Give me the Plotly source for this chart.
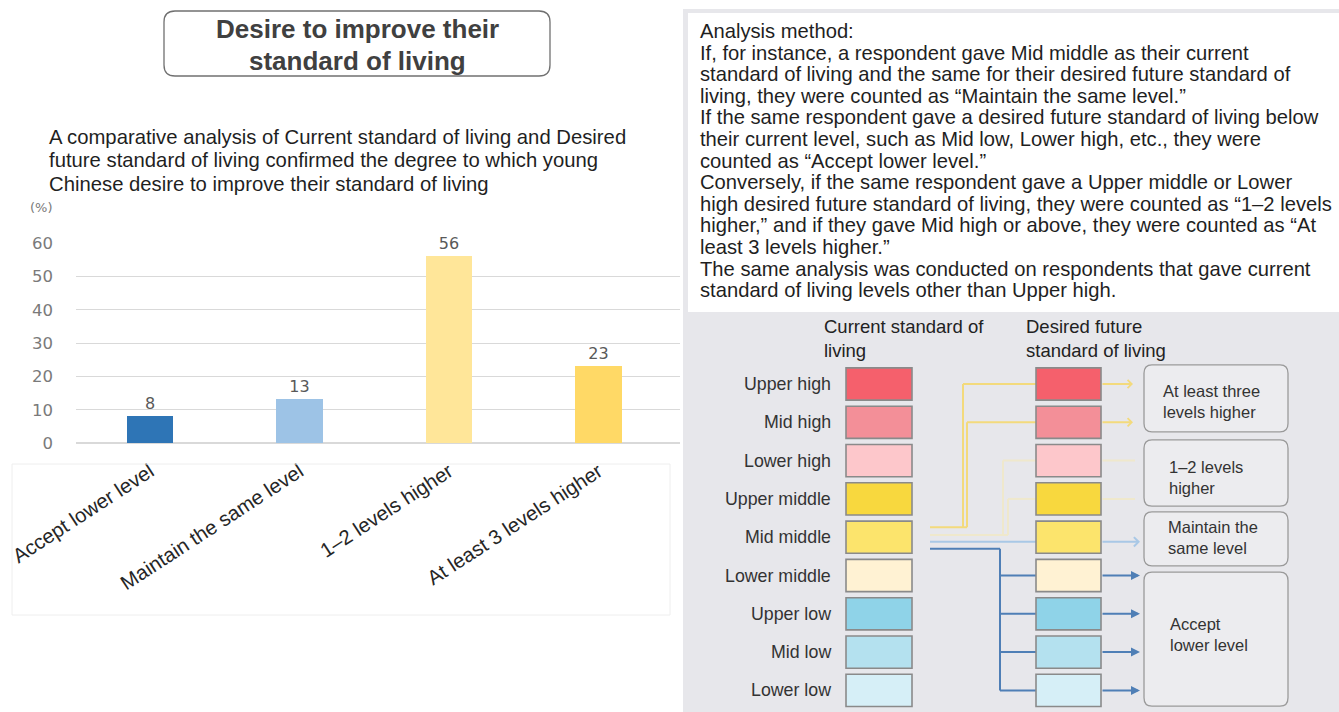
import plotly.graph_objects as go

W, H = 1339, 712
FONT = "Liberation Sans, Arial, sans-serif"
NUM_FONT = "DejaVu Sans, Verdana, sans-serif"

# ---- bar chart data ----
categories = ["Accept lower level", "Maintain the same level",
              "1–2 levels higher", "At least 3 levels higher"]
shares = [8, 13, 56, 23]
bar_colors = ["#2e75b6", "#9dc3e6", "#ffe699", "#ffd966"]
y_ticks = [0, 10, 20, 30, 40, 50, 60]

title_lines = ["Desire to improve their", "standard of living"]
subtitle_lines = [
    "A comparative analysis of Current standard of living and Desired",
    "future standard of living confirmed the degree to which young",
    "Chinese desire to improve their standard of living",
]

# ---- method text ----
method_lines = [
    "Analysis method:",
    "If, for instance, a respondent gave Mid middle as their current",
    "standard of living and the same for their desired future standard of",
    "living, they were counted as “Maintain the same level.”",
    "If the same respondent gave a desired future standard of living below",
    "their current level, such as Mid low, Lower high, etc., they were",
    "counted as “Accept lower level.”",
    "Conversely, if the same respondent gave a Upper middle or Lower",
    "high desired future standard of living, they were counted as “1–2 levels",
    "higher,” and if they gave Mid high or above, they were counted as “At",
    "least 3 levels higher.”",
    "The same analysis was conducted on respondents that gave current",
    "standard of living levels other than Upper high.",
]

# ---- diagram data ----
levels = ["Upper high", "Mid high", "Lower high", "Upper middle", "Mid middle",
          "Lower middle", "Upper low", "Mid low", "Lower low"]
level_colors = ["#f5606c", "#f38f98", "#fdc7cb", "#f8d83e", "#fce46c",
                "#fff2d3", "#8fd3e8", "#b4e1ef", "#d6eff7"]
outcome_labels = ["At least three<br>levels higher", "1–2 levels<br>higher",
                  "Maintain the<br>same level", "Accept<br>lower level"]
outcome_rows = [[0, 1], [2, 3], [4], [5, 6, 7, 8]]
current_header = "Current standard of<br>living"
desired_header = "Desired future<br>standard of living"

# ---- layout geometry (pixels) ----
ROW0, PITCH = 384.0, 38.3          # centre of first level row, row pitch
def row_of(py):
    return (py - ROW0) / PITCH

fig = go.Figure()

# bar chart
fig.add_trace(go.Bar(
    x=list(range(len(categories))), y=shares, width=0.31,
    marker=dict(color=bar_colors, line=dict(width=0)),
    text=[str(v) for v in shares], textposition="outside",
    textfont=dict(size=16, color="#595959", family=NUM_FONT),
    cliponaxis=False, hoverinfo="skip", showlegend=False,
))

# invisible anchors for the diagram subplots
fig.add_trace(go.Scatter(x=[0], y=[0], xaxis="x2", yaxis="y2", mode="markers",
                         marker=dict(opacity=0), hoverinfo="skip", showlegend=False))
fig.add_trace(go.Scatter(x=[0], y=[0], xaxis="x2", yaxis="y3", mode="markers",
                         marker=dict(opacity=0), hoverinfo="skip", showlegend=False))

x_dom = [76 / W, 680 / W]
y_dom = [1 - 443 / H, 1 - 243.3 / H]

fig.update_layout(
    width=W, height=H, autosize=False,
    margin=dict(l=0, r=0, t=0, b=0, pad=0),
    paper_bgcolor="white", plot_bgcolor="rgba(0,0,0,0)",
    font=dict(family=FONT),
    showlegend=False,
    bargap=0,
    xaxis=dict(domain=x_dom, range=[-0.495, 3.545], tickvals=list(range(4)),
               ticktext=categories, tickangle=-33, showgrid=False, zeroline=False,
               showline=False, ticks="", automargin=False, ticklabelstandoff=12,
               tickfont=dict(size=20.3, color="#262626", family=FONT),
               fixedrange=True),
    yaxis=dict(domain=y_dom, range=[0, 60], tickvals=y_ticks, showgrid=True,
               gridcolor="#d9d9d9", gridwidth=1, zeroline=True, zerolinecolor="#d9d9d9",
               showline=False, ticks="", ticklabelstandoff=22, automargin=False,
               tickfont=dict(size=16.5, color="#7a7a7a", family=NUM_FONT), fixedrange=True),
    xaxis2=dict(domain=[0, 1], range=[0, W], visible=False, anchor="y2",
                automargin=False, fixedrange=True),
    yaxis2=dict(domain=[0, 1], range=[row_of(H), row_of(0)], visible=False,
                anchor="x2", automargin=False, fixedrange=True),
    yaxis3=dict(domain=[0, 1], range=[H, 0], visible=False, anchor="x2",
                overlaying="y2", automargin=False, fixedrange=True),
)

shapes = []
annotations = []

def rounded(x0, y0, x1, y1, rx, ry):
    return (f"M{x0+rx},{y0} L{x1-rx},{y0} Q{x1},{y0} {x1},{y0+ry} "
            f"L{x1},{y1-ry} Q{x1},{y1} {x1-rx},{y1} L{x0+rx},{y1} "
            f"Q{x0},{y1} {x0},{y1-ry} L{x0},{y0+ry} Q{x0},{y0} {x0+rx},{y0} Z")

def px_text(x, y, text, size, color="#222222", xanchor="left", bold=False,
            align="left", family=FONT):
    if bold:
        text = f"<b>{text}</b>"
    annotations.append(dict(xref="x2", yref="y3", x=x, y=y, text=text, showarrow=False,
                            xanchor=xanchor, yanchor="middle", align=align,
                            font=dict(size=size, color=color, family=family)))

# ---- left panel ----
shapes.append(dict(type="path", xref="x2", yref="y3",
                   path=rounded(164, 11, 550, 76, 11, 11),
                   line=dict(color="#707070", width=1.3), fillcolor="white"))
for i, t in enumerate(title_lines):
    px_text(357, 29 + i * 32, t, 26, color="#404040", xanchor="center", bold=True)
for i, t in enumerate(subtitle_lines):
    px_text(47, 137 + i * 23.3, t, 20.3, color="#1f1f1f")
px_text(28, 207, "(%)", 13, color="#7a7a7a", family=NUM_FONT)
shapes.append(dict(type="rect", xref="x2", yref="y3", x0=12, x1=670, y0=464, y1=615,
                   line=dict(color="#eeeeee", width=1), fillcolor="rgba(0,0,0,0)"))

# ---- right panel backgrounds ----
shapes.append(dict(type="rect", xref="x2", yref="y3", x0=683, x1=W, y0=9, y1=H,
                   line=dict(width=0), fillcolor="#e7e7eb", layer="below"))
shapes.append(dict(type="rect", xref="x2", yref="y3", x0=688, x1=W, y0=13, y1=312,
                   line=dict(width=0), fillcolor="white", layer="below"))
for i, t in enumerate(method_lines):
    px_text(698, 31 + i * 21.6, t, 20.2, color="#1f1f1f")

# ---- diagram headers ----
px_text(822, 338, current_header, 18.5, color="#222222")
px_text(1024, 338, desired_header, 18.5, color="#222222")

# ---- connectors (drawn before the boxes) ----
YEL, YEL_F = "#f3da7c", "#efe8cc"
BLUE, LBLUE = "#4f7fb6", "#a9c8e6"
XR = 1036                     # left edge of the desired column
XS = 930                      # start of connectors
def seg(x0, y0, x1, y1, color, w=2):
    shapes.append(dict(type="line", xref="x2", yref="y2", x0=x0, y0=y0, x1=x1, y1=y1,
                       line=dict(color=color, width=w)))

mid = levels.index("Mid middle")
# upward (yellow) paths from Mid middle
ya, yb = mid - 0.26, mid - 0.06
seg(XS, ya, 967, ya, YEL)
seg(963, ya, 963, 0, YEL); seg(963, 0, XR, 0, YEL)
seg(967, ya, 967, 1, YEL); seg(967, 1, XR, 1, YEL)
seg(XS, yb, 1008, yb, YEL_F)
seg(1003, yb, 1003, 2, YEL_F); seg(1003, 2, XR, 2, YEL_F)
seg(1008, yb, 1008, 3, YEL_F); seg(1008, 3, XR, 3, YEL_F)
# same level (light blue)
ys = mid + 0.12
seg(XS, ys, XR, ys, LBLUE)
# downward (blue) paths
yd = mid + 0.3
seg(XS, yd, 1000, yd, BLUE)
seg(1000, yd, 1000, len(levels) - 1, BLUE)
for r in range(mid + 1, len(levels)):
    seg(1000, r, XR, r, BLUE)

def arrow(r, color, head, x1=1138, x0=1101, size=1.0):
    annotations.append(dict(xref="x2", yref="y2", axref="x2", ayref="y2",
                            x=x1, y=r, ax=x0, ay=r, text="", showarrow=True,
                            arrowhead=head, arrowsize=size, arrowwidth=2,
                            arrowcolor=color))
arrow(0, YEL, 4, x1=1133, size=0.8)
arrow(1, YEL, 4, x1=1133, size=0.8)
arrow(2, YEL_F, 0, x1=1135)
arrow(3, YEL_F, 0, x1=1135)
arrow(ys, LBLUE, 4, x1=1140, size=0.9)
for r in range(mid + 1, len(levels)):
    arrow(r, BLUE, 2, x1=1140, size=0.9)

# ---- level boxes and labels ----
for i, (name, col) in enumerate(zip(levels, level_colors)):
    for x0, x1 in ((846, 912), (1036, 1101)):
        shapes.append(dict(type="rect", xref="x2", yref="y2", x0=x0, x1=x1,
                           y0=i - 0.42, y1=i + 0.42, fillcolor=col,
                           line=dict(color="#8a8a8a", width=1.6)))
    annotations.append(dict(xref="x2", yref="y2", x=833, y=i, text=name, showarrow=False,
                            xanchor="right", yanchor="middle",
                            font=dict(size=17.8, color="#333333", family=FONT)))

# ---- outcome boxes ----
outcome_spans = [(-0.5, 1.25), (1.46, 3.19), (3.34, 4.75), (4.91, 8.41)]
outcome_text_pos = [(1161, 401), (1167, 477), (1166, 537), (1168, 634)]
for lab, rows, (t0, t1), (tx, ty) in zip(outcome_labels, outcome_rows,
                                          outcome_spans, outcome_text_pos):
    shapes.append(dict(type="path", xref="x2", yref="y2",
                       path=rounded(1144, t0, 1288, t1, 8, 0.22),
                       fillcolor="#ececef", line=dict(color="#9a9a9a", width=1.3)))
    px_text(tx, ty, lab, 16.5, color="#333333")

fig.update_layout(shapes=shapes, annotations=annotations)
fig.write_html("out.html")
